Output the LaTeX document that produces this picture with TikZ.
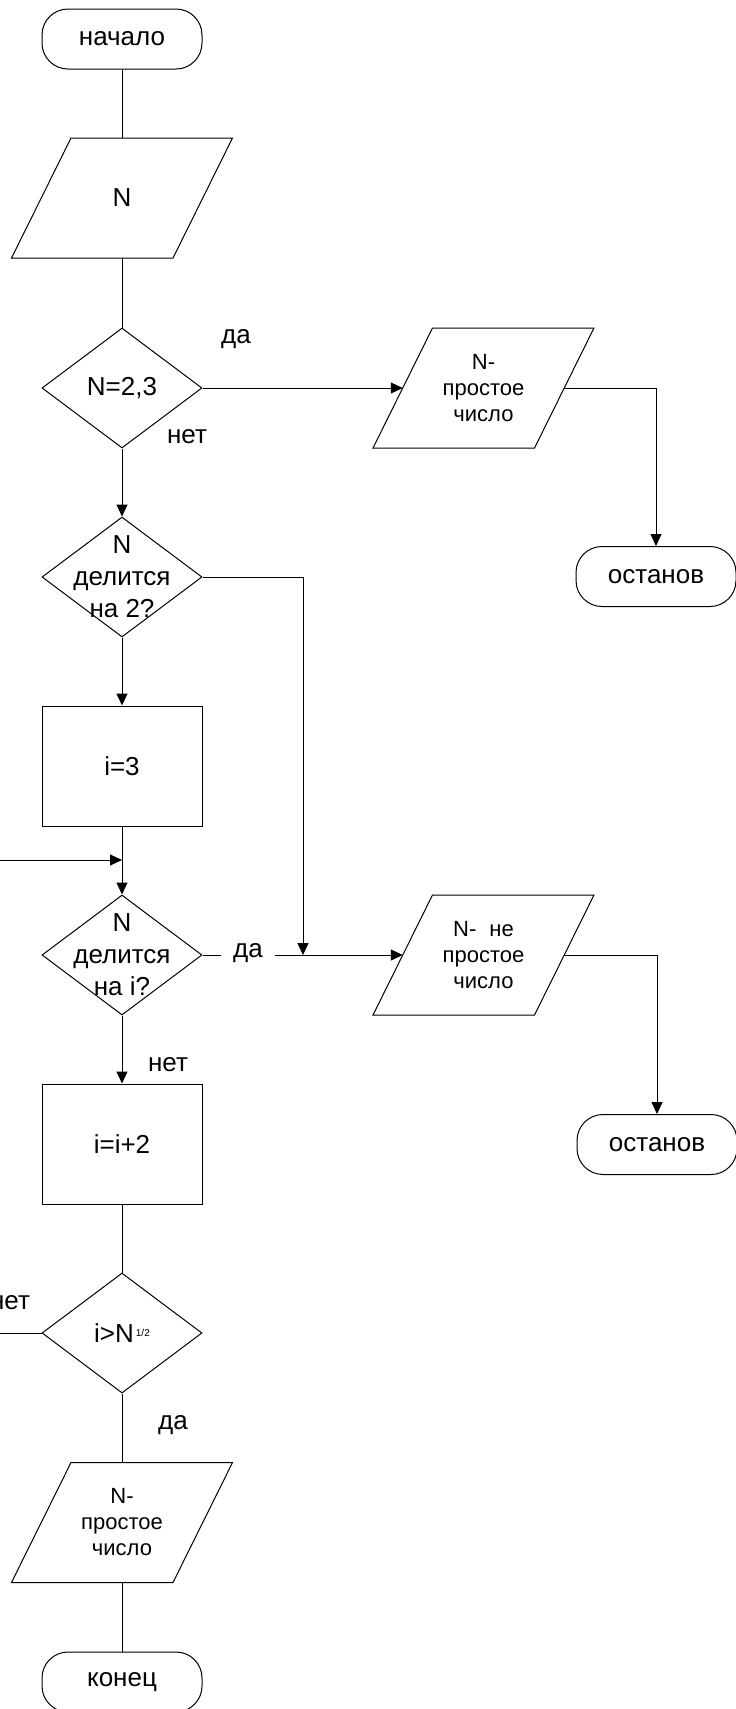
\documentclass[tikz,border=0pt]{standalone}
\usepackage{fontspec}
\setmainfont{Liberation Sans}
\usetikzlibrary{arrows.meta,shapes.geometric,calc}
\newcommand{\paradraw}[1]{\draw[shp] ($(#1)+(-51,-60)$) -- ($(#1)+(110.5,-60)$) -- ($(#1)+(51,60)$) -- ($(#1)+(-110.5,60)$) -- cycle;}
\begin{document}
\begin{tikzpicture}[x=1pt,y=-1pt,
  every node/.style={font=\fontsize{26}{32}\selectfont, inner sep=0pt},
  shp/.style={draw=black, line width=1pt},
  term/.style={shp, rectangle, rounded corners=26pt, minimum width=160pt, minimum height=60pt},
  iobase/.style={rectangle, minimum width=161pt, minimum height=120pt},
  proc/.style={shp, rectangle, minimum width=160pt, minimum height=120pt},
  dec/.style={shp, diamond, minimum width=160pt, minimum height=120pt},
  smalltxt/.style={font=\fontsize{22}{26}\selectfont, align=center},
  dectxt/.style={align=center},
  lbl/.style={fill=white, inner xsep=3pt, inner ysep=2pt},
  conn/.style={line width=1pt},
  arr/.style={conn, -{Triangle[length=12pt,width=11pt]}}
]
\useasboundingbox (0,0) rectangle (736,1709);
\clip (0,0) rectangle (736,1709);

% nodes
\node[term] (start) at (122,39) {начало};
\node[iobase] (inN) at (122,198) {N};
\paradraw{inN}
\node[dec] (d1) at (122,388) {};
\node[dectxt] (d1t) at (d1) {N=2,3};
\node[iobase, smalltxt] (p1) at (483.5,388) {N-\\простое\\число};
\paradraw{p1}
\node[term] (stop1) at (656,576.5) {останов};
\node[dec] (d2) at (122,577) {};
\node[dectxt] (d2t) at (d2) {N\\делится\\на 2?};
\node[proc] (r1) at (122,766) {i=3};
\node[dec] (d3) at (122,955) {};
\node[dectxt] (d3t) at (d3) {N\\делится\\на i?};
\node[iobase, smalltxt] (p2) at (483.5,955) {N-\hspace{13pt}не\\простое\\число};
\paradraw{p2}
\node[term] (stop2) at (657,1144.5) {останов};
\node[proc] (r2) at (122,1144) {i=i+2};
\node[dec] (d4) at (122,1333) {};
\node[dectxt] (d4t) at (d4) {i>N\kern2pt\raisebox{6pt}{\fontsize{10}{10}\selectfont 1/2}};
\node[iobase, smalltxt] (p3) at (122,1522.5) {N-\\простое\\число};
\paradraw{p3}
\node[term] (end) at (122,1682) {конец};

% helper coordinates
\coordinate (j) at (303,955);
\coordinate (loopin) at (122,860);
\coordinate (loopout) at (-30,1333);

% connectors
\draw[conn] (start) -- (inN);
\draw[conn] (inN) -- (d1);
\draw[arr] (d1) -- (p1);
\draw[arr] (p1.east) -| (stop1.north);
\draw[arr] (d1) -- (d2);
\draw[arr] (d2) -- (r1);
\draw[arr] (d2.east) -| (j);
\draw[arr] (r1) -- (d3);
\draw[arr] (d4.west) -- (loopout) |- (loopin);
\draw[arr] (d3.east) -- (p2.west);
\draw[arr] (p2.east) -| (stop2.north);
\draw[arr] (d3) -- (r2);
\draw[conn] (r2) -- (d4);
\draw[conn] (d4) -- (p3);
\draw[conn] (p3) -- (end);

% labels
\node (l1) at (236,339) {да};
\node[lbl] (l2) at (187,437) {нет};
\node[lbl, inner xsep=12pt] (l3) at (248,953) {да};
\node (l4) at (168,1065) {нет};
\node (l5) at (10,1303) {нет};
\node (l6) at (173,1425) {да};
\end{tikzpicture}
\end{document}
